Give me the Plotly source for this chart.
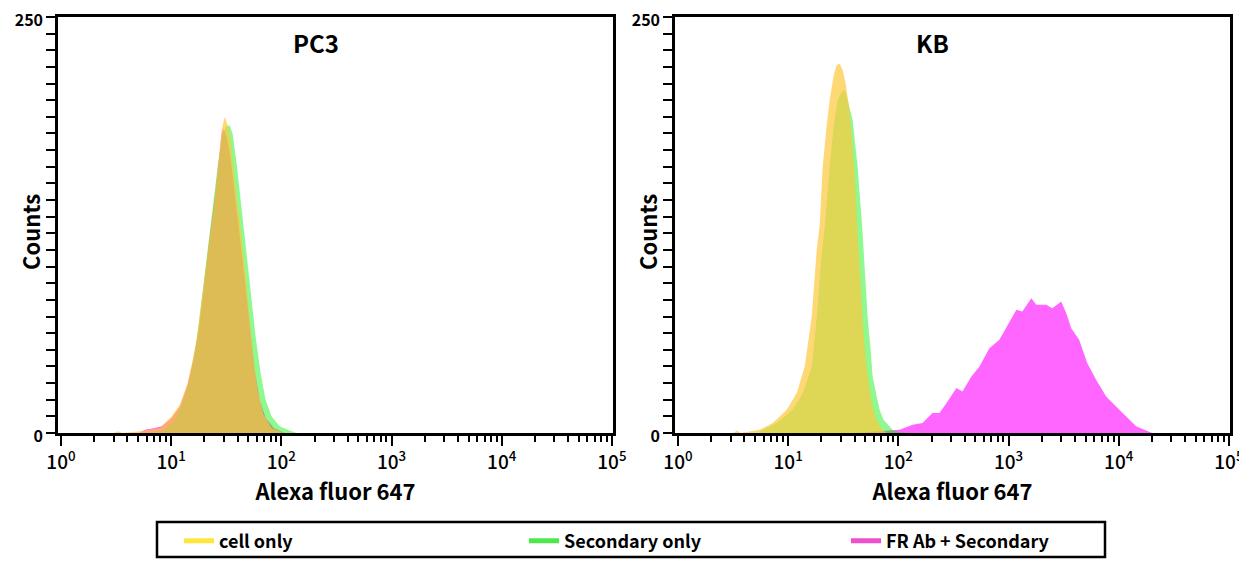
import plotly.graph_objects as go

# ---------------- data ----------------
# PC3 panel
pc3_cell_x = [3.0, 3.3, 3.6, 5.2, 7.9, 10.1, 12.0, 14.1, 15.7, 17.4, 18.9, 20.6, 22.4, 24.8, 27.0, 28.7,
              30.6, 32.6, 34.7, 37.7, 41.8, 46.5, 51.5, 56.0, 60.8, 69.0, 81.5, 107]
pc3_cell_y = [0, 1, 0, 1, 3, 10, 17, 30, 44, 60, 80, 100, 120, 140, 164, 182,
              190, 185, 176, 152, 128, 100, 68, 44, 26, 11, 3, 0]

pc3_sec_x = [6.4, 8.75, 10.8, 12.7, 14.7, 16.7, 18.5, 20.1, 21.9, 24.3, 26.4, 28.7, 31.2, 34.0, 36.1,
             39.3, 42.7, 47.4, 52.6, 58.4, 64.8, 71.9, 81.5, 96.4, 118.7, 137]
pc3_sec_y = [0.5, 2, 8, 18, 32, 52, 75, 95, 115, 138, 160, 176, 184, 185, 180,
             162, 140, 112, 84, 58, 36, 20, 10, 4, 1.5, 0]

pc3_fr_x = [5.2, 5.8, 7.1, 8.2, 10.1, 12.0, 14.1, 16.0, 17.8, 19.3, 21.0, 22.8, 25.3, 27.0, 28.7, 29.9,
            31.9, 34.7, 38.5, 42.7, 47.4, 52.6, 57.2, 63.5, 71.9, 85, 107]
pc3_fr_y = [0.5, 2, 3, 4, 9, 16, 29, 45, 62, 82, 102, 122, 145, 165, 180, 183,
            178, 165, 140, 115, 88, 60, 38, 20, 9, 3, 0]

# KB panel
kb_cell_x = [3.2, 3.42, 3.7, 5.53, 7.26, 9.71, 11.97, 14.14, 16.37, 18.16, 19.33, 20.57, 22.39, 23.81,
             25.88, 27.54, 29.31, 31.24, 33.24, 35.38, 37.66, 40.09, 41.80, 43.57, 45.50, 48.42,
             51.52, 54.83, 58.35, 63.48, 69.02, 78.2]
kb_cell_y = [0, 1.5, 0, 2, 6, 14, 24, 40, 70, 110, 125, 160, 185, 200,
             215, 221, 222, 218, 210, 198, 180, 155, 130, 108, 85, 58,
             40, 26, 16, 8, 3, 0]

kb_sec_x = [5.53, 7.88, 11.0, 13.6, 16.4, 18.2, 19.7, 21.5, 23.8, 25.9, 28.1, 30.6, 32.6, 34.7, 38.5,
            42.7, 47.4, 49.4, 52.6, 56.0, 58.4, 63.5, 67.6, 73.4, 78.2, 88.5, 102.6, 126]
kb_sec_y = [1, 6, 14, 24, 40, 70, 100, 125, 160, 185, 200, 205, 206, 200, 188,
            160, 120, 100, 70, 50, 34, 22, 14, 8, 6, 2, 0.5, 0]

kb_fr_x = [40, 60, 80, 102.6, 134.6, 165.6, 204, 236, 273.5, 336.5, 382, 460, 545, 670, 826, 975,
           1178, 1334, 1611, 1786, 2198, 2495, 3006, 3342, 3707, 4375, 5176, 6237, 7691,
           9462, 11670, 14390, 20090]
kb_fr_y = [0, 1, 1.5, 2, 5, 6, 12, 12, 18, 27, 25, 34, 40, 51, 56, 64,
           74, 73, 81, 77, 77, 75, 79, 72, 63, 56, 42, 32, 22,
           16, 10, 4, 0]

series_names = ["cell only", "Secondary only", "FR Ab + Secondary"]
legend_colors = ["#FFE63C", "#4DE84D", "#EE4FCB"]
panel_titles = ["PC3", "KB"]
x_tick_vals = [1, 10, 100, 1000, 10000, 100000]
x_tick_text = ["10<sup>0</sup>", "10<sup>1</sup>", "10<sup>2</sup>", "10<sup>3</sup>",
               "10<sup>4</sup>", "10<sup>5</sup>"]
y_tick_vals = [0, 250]
y_tick_text = ["0", "250"]

# ---------------- styling ----------------
FONT = "Noto Sans CJK KR"
OFF = 8                       # page body margin
W, H = 1247 - OFF, 565 - OFF
fill_cell = "rgba(255,200,60,0.70)"
fill_sec = "rgba(0,240,0,0.44)"
fill_fr = "rgba(255,0,255,0.60)"


def px(x):  # screen x -> paper
    return (x - OFF) / W


def py(y):  # screen y -> paper
    return 1 - (y - OFF) / H


fig = go.Figure()


def add_hist(x, y, color, xa, ya):
    fig.add_trace(go.Scatter(x=x, y=y, mode="lines", fill="tozeroy", fillcolor=color,
                             line=dict(width=0, color=color), xaxis=xa, yaxis=ya,
                             showlegend=False, hoverinfo="skip"))


# bottom to top: FR Ab, secondary, cell only
add_hist(pc3_fr_x, pc3_fr_y, fill_fr, "x", "y")
add_hist(pc3_sec_x, pc3_sec_y, fill_sec, "x", "y")
add_hist(pc3_cell_x, pc3_cell_y, fill_cell, "x", "y")
add_hist(kb_fr_x, kb_fr_y, fill_fr, "x2", "y2")
add_hist(kb_sec_x, kb_sec_y, fill_sec, "x2", "y2")
add_hist(kb_cell_x, kb_cell_y, fill_cell, "x2", "y2")

# legend entries
legend_ids = ["legend", "legend2", "legend3"]
for name, col, lid in zip(series_names, legend_colors, legend_ids):
    fig.add_trace(go.Scatter(x=[None], y=[None], mode="lines", name=name,
                             line=dict(color=col, width=5), legend=lid, showlegend=True))

minor_x = [m * 10 ** k for k in range(5) for m in range(2, 10)]
minor_y = list(range(10, 250, 10))


def xaxis_cfg(domain, anchor):
    return dict(domain=domain, anchor=anchor, type="log", range=[-0.027, 5.01],
                automargin=False, ticklabeloverflow="allow",
                tickmode="array", tickvals=x_tick_vals, ticktext=x_tick_text,
                ticks="outside", ticklen=10, tickwidth=2, tickcolor="black",
                tickfont=dict(family=FONT, size=19, color="black", weight=500),
                showline=True, linewidth=2.5, linecolor="black", mirror=True,
                showgrid=False, zeroline=False,
                minor=dict(tickmode="array", tickvals=minor_x, ticks="outside", ticklen=6,
                           tickwidth=1.5, tickcolor="black", showgrid=False),
                title=dict(text="Alexa fluor 647", standoff=2,
                           font=dict(family=FONT, size=22, color="black", weight="bold")))


def yaxis_cfg(domain, anchor):
    return dict(domain=domain, anchor=anchor, range=[0, 250], automargin=False,
                ticklabeloverflow="allow", ticklabelshift=3,
                tickmode="array", tickvals=y_tick_vals, ticktext=y_tick_text,
                ticks="outside", ticklen=9, tickwidth=2, tickcolor="black",
                tickfont=dict(family=FONT, size=16, color="black", weight="bold"),
                showline=True, linewidth=2.5, linecolor="black", mirror=True,
                showgrid=False, zeroline=False,
                minor=dict(tickmode="array", tickvals=minor_y, ticks="outside", ticklen=9,
                           tickwidth=2, tickcolor="black", showgrid=False))


ydom = [py(433), py(17)]
fig.update_layout(
    width=W, height=H,
    margin=dict(l=0, r=0, t=0, b=0, autoexpand=False),
    paper_bgcolor="white", plot_bgcolor="white",
    font=dict(family=FONT, color="black"),
    xaxis=xaxis_cfg([px(58), px(613)], "y"),
    yaxis=yaxis_cfg(ydom, "x"),
    xaxis2=xaxis_cfg([px(675), px(1230)], "y2"),
    yaxis2=yaxis_cfg(ydom, "x2"),
)

leg_common = dict(orientation="h", yanchor="middle", y=py(541), xanchor="left",
                  bgcolor="rgba(0,0,0,0)", borderwidth=0,
                  font=dict(family=FONT, size=18, color="black", weight="bold"))
fig.update_layout(legend=dict(x=px(179), **leg_common),
                  legend2=dict(x=px(524), **leg_common),
                  legend3=dict(x=px(846), **leg_common))

# legend frame
fig.add_shape(type="rect", xref="paper", yref="paper",
              x0=px(157), x1=px(1105), y0=py(557), y1=py(522),
              line=dict(color="black", width=2.5), fillcolor="rgba(0,0,0,0)")

# panel titles and y-axis titles
for title, cx in zip(panel_titles, [316, 932]):
    fig.add_annotation(text=title, xref="paper", yref="paper", x=px(cx), y=py(42),
                       showarrow=False, xanchor="center", yanchor="middle",
                       font=dict(family=FONT, size=24, color="black", weight="bold"))
for cx in [30, 647]:
    fig.add_annotation(text="Counts", xref="paper", yref="paper", x=px(cx), y=py(232),
                       showarrow=False, xanchor="center", yanchor="middle", textangle=-90,
                       font=dict(family=FONT, size=22, color="black", weight="bold"))

fig.write_html("out.html")
